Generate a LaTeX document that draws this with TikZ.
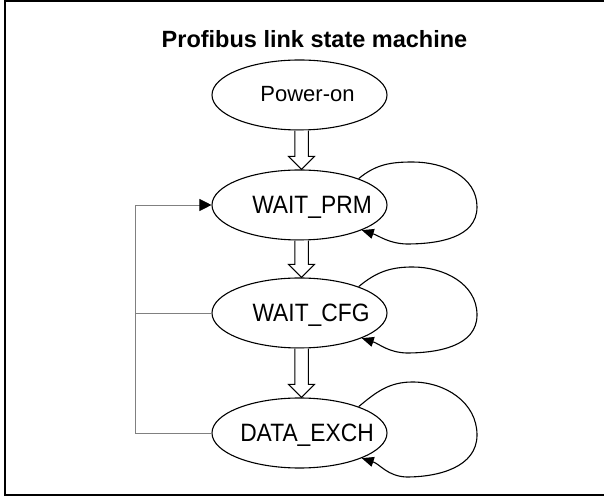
\documentclass[tikz,border=0pt]{standalone}
\usepackage{fontspec}
\setmainfont{Liberation Sans}
\usetikzlibrary{shapes.geometric,arrows.meta,calc}
\newcommand\hollowdown[2]{%
  \draw[hollowarr] let \p1=($(#1.south)+(2,0)$), \p2=($(#2.north)+(2,0)$) in
  (\x1-6.75pt,\y1) -- (\x1-6.75pt,\y2+13pt) -- (\x1-13pt,\y2+13pt) -- (\x2,\y2)
  -- (\x1+13pt,\y2+13pt) -- (\x1+6.75pt,\y2+13pt) -- (\x1+6.75pt,\y1);}
\newcommand\selfloopof[3]{%
  \draw[loopline] (#1.24) to[out=40,in=180] ($(#1.center)+(113,#2)$)
  to[out=0,in=90] ($(#1.center)+(177.5,-2)$)
  to[out=-90,in=0] ($(#1.center)+(107,-#3)$)
  to[out=178,in=-18] (#1.-22);}
\newcommand\tallword[1]{\scalebox{1}[1.1]{#1}}
\begin{document}
\begin{tikzpicture}[x=1pt,y=1pt,
  state/.style={draw, line width=1.1pt, ellipse, minimum width=175pt,
    minimum height=70pt, inner sep=0pt, text depth=0pt},
  hollowarr/.style={draw, fill=white, line width=1pt},
  loopline/.style={draw, line width=1.1pt, -{Triangle[length=12pt,width=10pt]}},
  backline/.style={draw=black!50, line width=0.8pt},
  titlefont/.style={font=\bfseries\fontsize{23.5}{28}\selectfont},
  statefont/.style={font=\fontsize{22.8}{27}\selectfont}
]
\useasboundingbox (0,0) rectangle (604,497);
\draw[line width=2pt] (5,1.5) rectangle (620,496.3);
\node[titlefont, anchor=base, inner sep=0pt] (title) at (314.5,449) {Profibus link state machine};

\node[state, font=\fontsize{22}{26}\selectfont, text height=13pt] (pw) at (299.5,402) {\makebox[0pt]{\hspace{16pt}Power-on}};
\node[state, statefont, text height=18pt] (wp) at (299.5,292) {\makebox[0pt]{\hspace{25pt}\tallword{WAIT\_PRM}}};
\node[state, statefont, text height=18pt] (wc) at (299.5,184) {\makebox[0pt]{\hspace{23pt}\tallword{WAIT\_CFG}}};
\node[state, statefont, text height=18pt] (de) at (299.5,64) {\makebox[0pt]{\hspace{15pt}\tallword{DATA\_EXCH}}};

\hollowdown{pw}{wp}
\hollowdown{wp}{wc}
\hollowdown{wc}{de}

\selfloopof{wp}{43}{39}
\selfloopof{wc}{46}{40}
\selfloopof{de}{51}{44}

\coordinate (bx) at (135,64);
\draw[backline, -{Triangle[length=12pt,width=12pt,black]}] (de.west) -- (bx) |- (wp.west);
\draw[backline] (wc.west) -- (wc.west -| bx);
\end{tikzpicture}
\end{document}
